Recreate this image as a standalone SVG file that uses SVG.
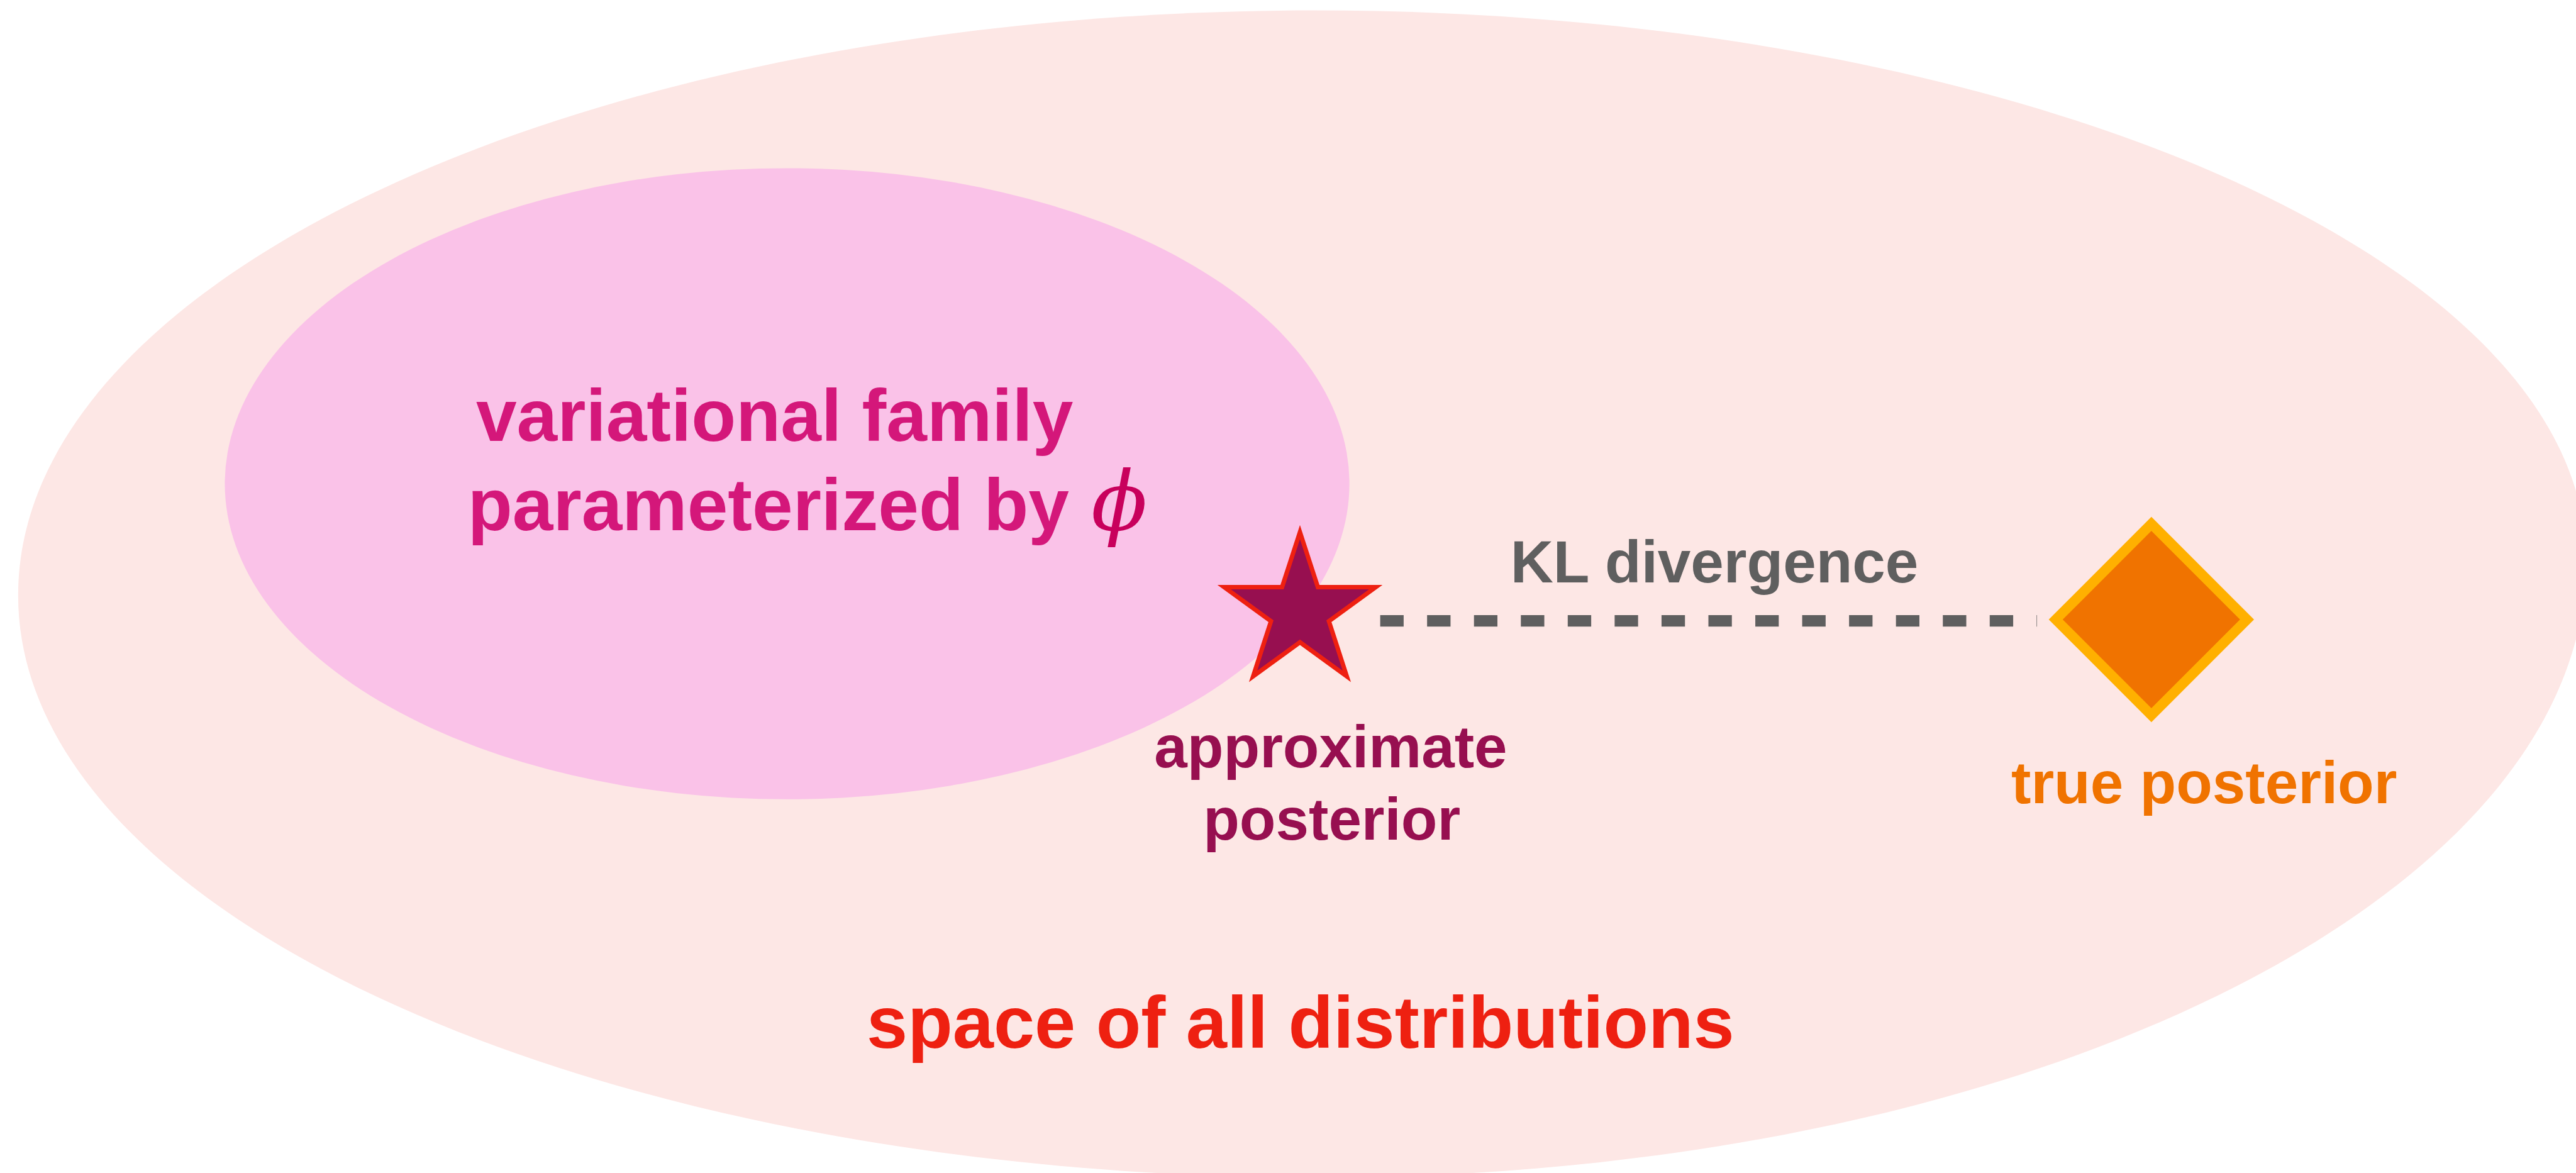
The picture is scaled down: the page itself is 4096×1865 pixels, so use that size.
<svg xmlns="http://www.w3.org/2000/svg" width="4096" height="1865" viewBox="0 0 4096 1865">
  <style>
    .lbl { font-family: 'Liberation Sans', Arial, Helvetica, sans-serif; font-weight: bold; }
    .fam { fill: #D4177A; font-size: 133px; }
    .approx { fill: #970F50; font-size: 108px; }
    .kl { fill: #5F5F5F; font-size: 108px; }
    .truep { fill: #F07300; font-size: 108px; }
    .space { fill: #EE2011; font-size: 134px; }
    .phi { font-family: 'DejaVu Serif', 'Liberation Serif', serif; font-style: italic; fill: #C8005C; font-size: 150px; }
  </style>
  <rect width="4096" height="1865" fill="#FFFFFF"/>
  <!-- drawn in 4682 x 2132 units, scaled down to the canvas -->
  <g transform="scale(0.874)">
    <g id="space-of-distributions">
      <path d="M33,1083 C33,495 1088,19 2390,19 C3669,19 4705,470 4705,1020 C4705,1640 3673,2142 2400,2142 C1093,2142 33,1668 33,1083 Z" fill="#FDE7E5"/>
      <text class="lbl space" x="2366" y="1906" text-anchor="middle">space of all distributions</text>
    </g>
    <g id="variational-family">
      <ellipse cx="1432" cy="880" rx="1023" ry="574" fill="#FAC2E8"/>
      <text class="lbl fam" x="866" y="802">variational family</text>
      <text class="lbl fam" x="851" y="964">parameterized by</text>
      <text class="phi" x="1985" y="964">ϕ</text>
    </g>
    <g id="connectors">
      <line x1="2511" y1="1129.5" x2="3706" y2="1129.5" stroke="#5F5F5F" stroke-width="21" stroke-dasharray="42.65 42.65"/>
      <text class="lbl kl" x="3119" y="1059" text-anchor="middle">KL divergence</text>
    </g>
    <g id="approximate-posterior">
      <polygon points="2365,968 2397.6,1068.2 2502.9,1068.2 2417.7,1130.1 2450.2,1230.3 2365,1168.4 2279.8,1230.3 2312.3,1130.1 2227.1,1068.2 2332.4,1068.2" fill="#970F50" stroke="#EE2011" stroke-width="8" stroke-miterlimit="10"/>
      <text class="lbl approx" x="2421" y="1396" text-anchor="middle">approximate</text>
      <text class="lbl approx" x="2423" y="1527" text-anchor="middle">posterior</text>
    </g>
    <g id="true-posterior">
      <polygon points="3914,953 4088,1127 3914,1301 3740,1127" fill="#F07300" stroke="#FFB000" stroke-width="18"/>
      <text class="lbl truep" x="4010" y="1461" text-anchor="middle">true posterior</text>
    </g>
  </g>
</svg>
